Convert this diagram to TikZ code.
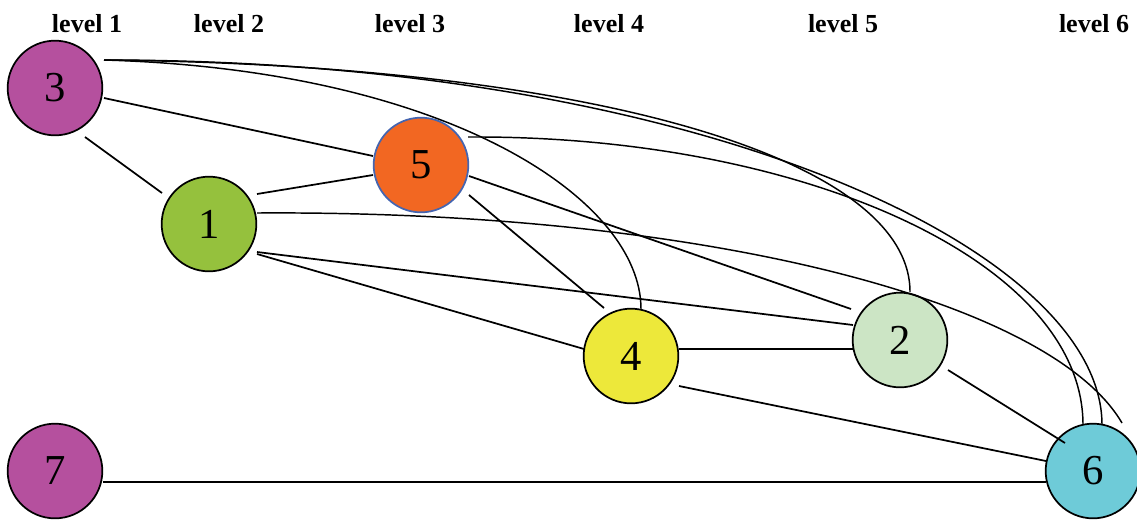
\documentclass[tikz,border=0pt]{standalone}
\usepackage{fontspec}
\setmainfont{Liberation Serif}
\usetikzlibrary{calc}
\definecolor{cpurple}{HTML}{B5509E}
\definecolor{cgreen}{HTML}{95C13D}
\definecolor{corange}{HTML}{F26722}
\definecolor{cblue}{HTML}{4565B0}
\definecolor{cyellow}{HTML}{EDE83A}
\definecolor{clight}{HTML}{CCE5C5}
\definecolor{ccyan}{HTML}{6ECBD8}
\tikzset{
  vtx/.style={circle, draw=black, line width=1.3pt, minimum size=71pt, inner sep=0pt, font=\fontsize{32}{36}\selectfont},
  lvl/.style={font=\fontsize{19.5}{21}\selectfont\bfseries},
  edge/.style={line width=1.3pt, black},
  cedge/.style={line width=1.1pt, black}
}
\begin{document}
\begin{tikzpicture}[x=0.75pt, y=-0.75pt]
\useasboundingbox (0,0) rectangle (1137,519);
\node[lvl] (l1) at (87,24) {level 1};
\node[lvl] (l2) at (229,24) {level 2};
\node[lvl] (l3) at (410,24) {level 3};
\node[lvl] (l4) at (609,24) {level 4};
\node[lvl] (l5) at (843,24) {level 5};
\node[lvl] (l6) at (1094,24) {level 6};

\node[vtx, fill=cpurple] (n3) at (55,88) {3};
\node[vtx, fill=cgreen] (n1) at (209,224) {1};
\node[vtx, fill=corange, draw=cblue] (n5) at (421,165) {5};
\node[vtx, fill=cyellow] (n4) at (631,356) {4};
\node[vtx, fill=clight] (n2) at (900,340) {2};
\node[vtx, fill=cpurple] (n7) at (55,471) {7};
\node[vtx, fill=ccyan] (n6) at (1093,471) {6};

\draw[edge] ($(n3)+(30,49)$) -- ($(n1)+(-47,-31)$);
\draw[edge] ($(n3)+(49,10)$) -- ($(n5)+(-48,-9)$);
\draw[edge] ($(n1)+(48,-30)$) -- ($(n5)+(-48,10)$);
\draw[edge] ($(n1)+(48,28)$) -- ($(n2)+(-47,-15)$);
\draw[edge] ($(n1)+(48,30)$) -- ($(n4)+(-47,-7)$);
\draw[edge] ($(n5)+(48,30)$) -- ($(n4)+(-27,-48)$);
\draw[edge] ($(n5)+(48,11)$) -- ($(n2)+(-49,-31)$);
\draw[edge] ($(n4)+(48,-7)$) -- ($(n2)+(-47,9)$);
\draw[edge] ($(n4)+(48,30)$) -- ($(n6)+(-47,-10)$);
\draw[edge] ($(n2)+(48,30)$) -- ($(n6)+(-28,-28)$);
\draw[edge] ($(n7)+(48,11)$) -- ($(n6)+(-47,11)$);

\draw[cedge] ($(n3)+(49,-28)$) .. controls (450,70) and (641,200) .. ($(n4)+(10,-47)$);
\draw[cedge] ($(n3)+(49,-28)$) .. controls (600,65) and (910,160) .. ($(n2)+(10,-48)$);
\draw[cedge] ($(n3)+(49,-28)$) .. controls (700,60) and (1102,250) .. ($(n6)+(9,-46)$);
\draw[cedge] ($(n5)+(47,-28)$) .. controls (800,135) and (1083,260) .. ($(n6)+(-10,-46)$);
\draw[cedge] ($(n1)+(48,-11)$) .. controls (700,210) and (1050,300) .. ($(n6)+(29,-48)$);
\end{tikzpicture}
\end{document}
